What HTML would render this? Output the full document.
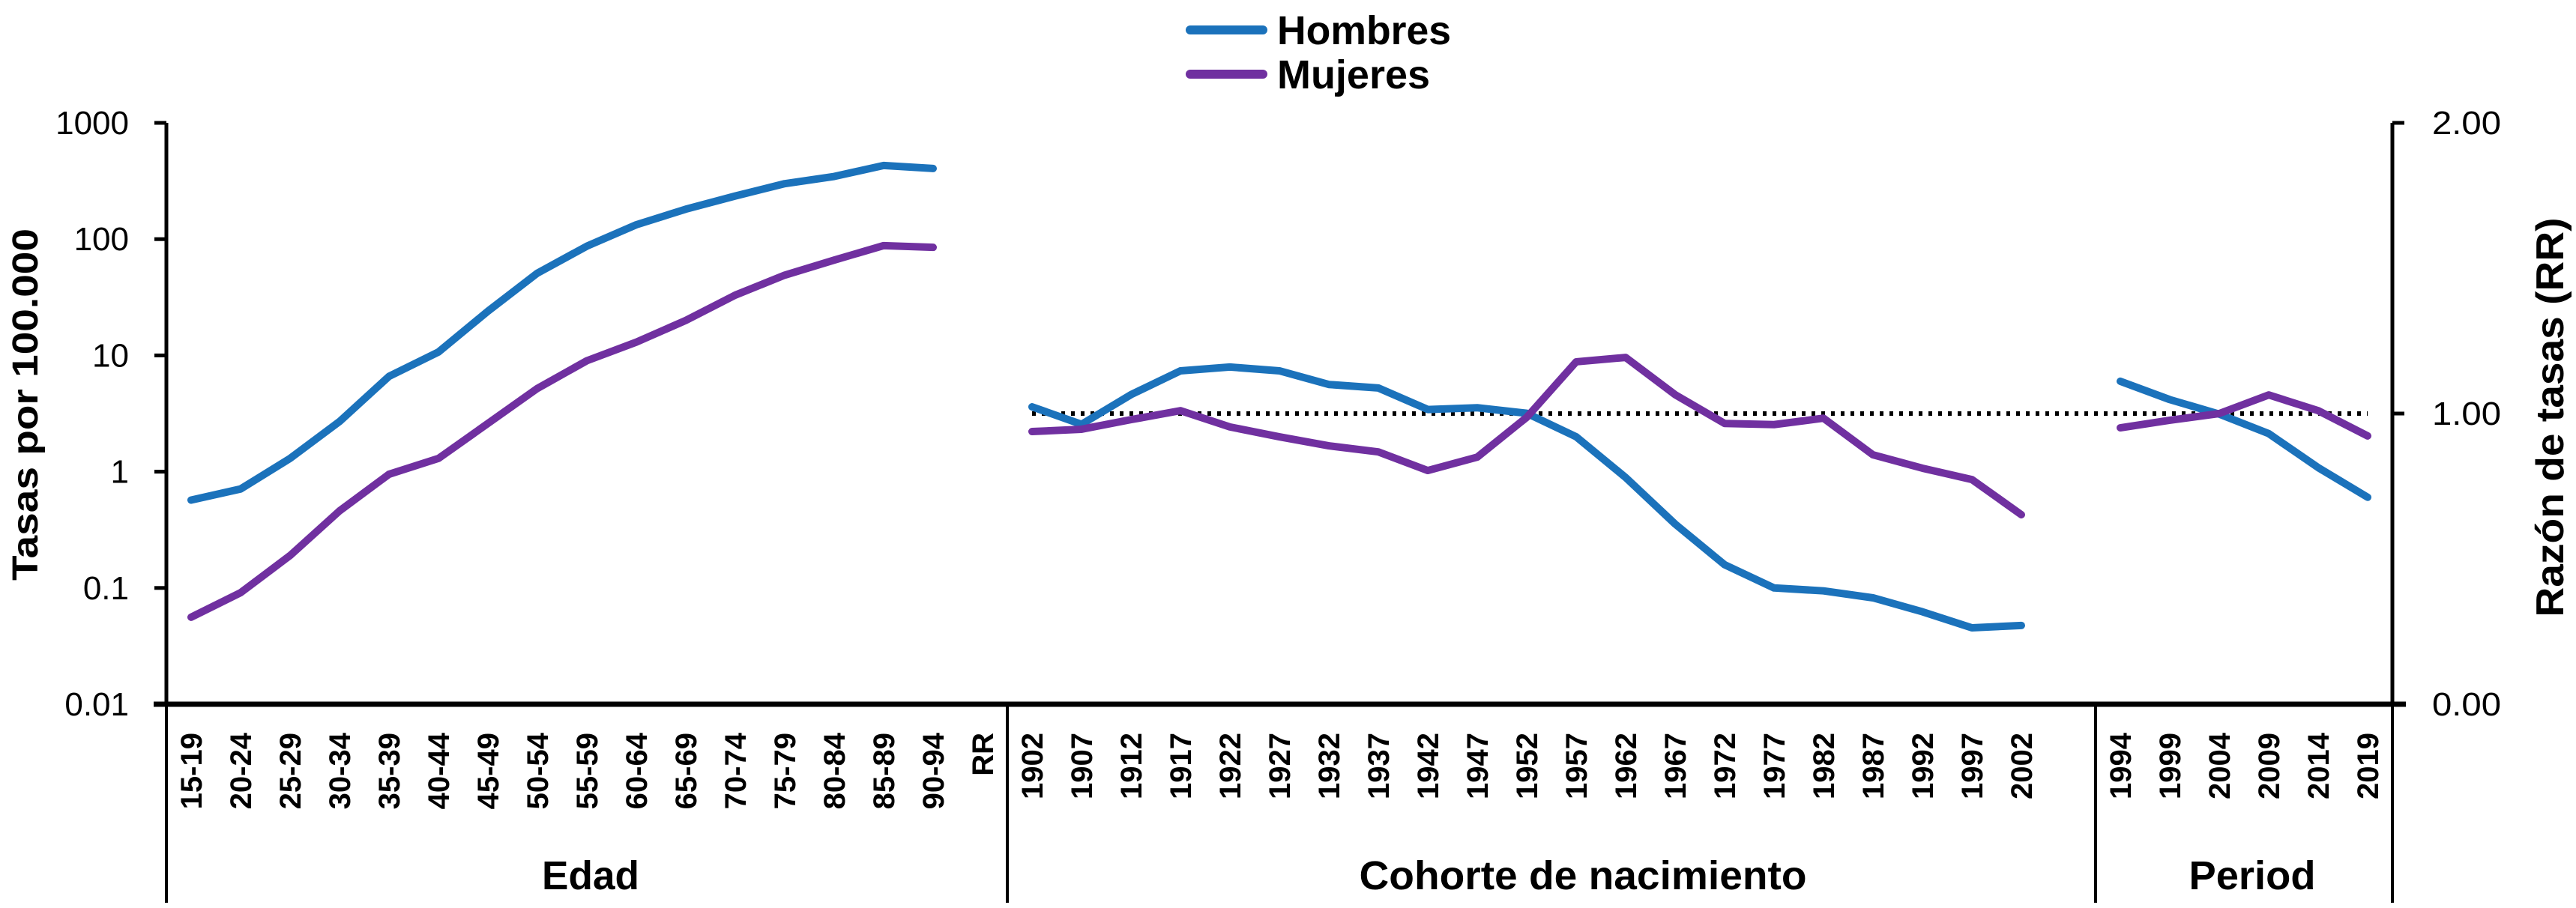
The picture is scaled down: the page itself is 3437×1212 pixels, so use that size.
<!DOCTYPE html>
<html><head><meta charset="utf-8"><style>html,body{margin:0;padding:0;background:#fff}svg{display:block}</style></head>
<body>
<svg id="chart" width="3437" height="1212" viewBox="0 0 3437 1212" xmlns="http://www.w3.org/2000/svg" font-family="Liberation Sans, Arial, sans-serif"></svg>
<script>
const ageCats = ["15-19","20-24","25-29","30-34","35-39","40-44","45-49","50-54","55-59","60-64","65-69","70-74","75-79","80-84","85-89","90-94","RR"];
const ageMen = [0.57,0.71,1.3,2.7,6.6,10.7,24,51,87,133,181,235,300,346,430,405];
const ageWomen = [0.056,0.091,0.19,0.46,0.95,1.3,2.6,5.2,9,13,20,33,49,66,88,85];
const cohortCats = ["1902","1907","1912","1917","1922","1927","1932","1937","1942","1947","1952","1957","1962","1967","1972","1977","1982","1987","1992","1997","2002"];
const cohortMen = [1.023,0.963,1.065,1.147,1.16,1.147,1.10,1.088,1.014,1.02,1.001,0.92,0.78,0.62,0.48,0.40,0.39,0.366,0.318,0.263,0.271];
const cohortWomen = [0.938,0.946,0.979,1.01,0.954,0.92,0.889,0.868,0.804,0.85,0.987,1.178,1.193,1.065,0.966,0.962,0.984,0.858,0.812,0.773,0.652];
const periodCats = ["1994","1999","2004","2009","2014","2019"];
const periodMen = [1.111,1.048,0.998,0.931,0.814,0.712];
const periodWomen = [0.951,0.977,1.0,1.064,1.01,0.923];
const leftTicks = [1000,100,10,1,0.1,0.01];
const leftTickLabels = ["1000","100","10","1","0.1","0.01"];
const rightTicks = [2,1,0];
const rightTickLabels = ["2.00","1.00","0.00"];

const NS="http://www.w3.org/2000/svg";
const svg=document.getElementById('chart');
const X0=222, SLOT=66, YT=164, YB=940;
const ageStart=0, cohortStart=17, periodStart=39, total=45;
function xSlot(i){return X0+SLOT*(i+0.5);}
function yLog(v){return YB-(Math.log10(v)+2)*(YB-YT)/5;}
function yRR(v){return YB-v*(YB-YT)/2;}
function el(tag,attrs,text){const e=document.createElementNS(NS,tag);for(const k in attrs)e.setAttribute(k,attrs[k]);if(text!==undefined)e.textContent=text;svg.appendChild(e);return e;}
const BLUE="#1b72bb", PURPLE="#7030a0";

let a=el('line',{x1:X0,y1:YT,x2:X0,y2:YB,stroke:'#000','stroke-width':5});


const XR=X0+SLOT*total;
a=el('line',{x1:XR,y1:YT,x2:XR,y2:YB,stroke:'#000','stroke-width':5});


a=el('line',{x1:205,y1:YB,x2:XR+18,y2:YB,stroke:'#000','stroke-width':7});


[0,17,39,45].forEach(s=>{const l=el('line',{x1:X0+SLOT*s,y1:YB,x2:X0+SLOT*s,y2:1205,stroke:'#000','stroke-width':4});

});

leftTicks.forEach((v,i)=>{const y=yLog(v);
const t=el('line',{x1:X0-16,y1:y,x2:X0,y2:y,stroke:'#000','stroke-width':5});


const tx=el('text',{x:172,y:y+15,'text-anchor':'end','font-size':44},leftTickLabels[i]);

});
rightTicks.forEach((v,i)=>{const y=yRR(v);
const t=el('line',{x1:XR,y1:y,x2:XR+16,y2:y,stroke:'#000','stroke-width':5});


const tx=el('text',{x:3245,y:y+15,'font-size':44,textLength:92,lengthAdjust:'spacingAndGlyphs'},rightTickLabels[i]);

});

let t=el('text',{x:0,y:0,'font-size':48,'font-weight':'bold','text-anchor':'middle',transform:'translate(50,540) rotate(-90)',textLength:470,lengthAdjust:'spacingAndGlyphs'},'Tasas por 100.000');


t=el('text',{x:0,y:0,'font-size':52,'font-weight':'bold','text-anchor':'middle',transform:'translate(3420,557) rotate(-90)',textLength:533,lengthAdjust:'spacingAndGlyphs'},'Razón de tasas (RR)');



function catLabels(cats,start){cats.forEach((c,i)=>{const x=xSlot(start+i);
const e=el('text',{x:0,y:0,'font-size':40,'font-weight':'bold','text-anchor':'end',transform:`translate(${x+14},978) rotate(-90)`},c);

});}
catLabels(ageCats,ageStart);catLabels(cohortCats,cohortStart);catLabels(periodCats,periodStart);
[["Edad",788,'edad-group-label',130],["Cohorte de nacimiento",2112,'cohort-group-label',597],["Period",3005,'period-group-label',169]].forEach(g=>{
const e=el('text',{x:g[1],y:1187,'font-size':54,'font-weight':'bold','text-anchor':'middle',textLength:g[3],lengthAdjust:'spacingAndGlyphs'},g[0]);

});

t=el('line',{x1:xSlot(cohortStart),y1:yRR(1),x2:xSlot(periodStart+5),y2:yRR(1),stroke:'#000','stroke-width':6,'stroke-dasharray':'5 8'});



function series(vals,start,yf,color,name){const pts=vals.map((v,i)=>xSlot(start+i)+','+yf(v)).join(' ');
const p=el('polyline',{points:pts,fill:'none',stroke:color,'stroke-width':10,'stroke-linejoin':'round','stroke-linecap':'round'});

}
series(ageMen,ageStart,yLog,BLUE,'age-men-line');
series(ageWomen,ageStart,yLog,PURPLE,'age-women-line');
series(cohortMen,cohortStart,yRR,BLUE,'cohort-men-line');
series(cohortWomen,cohortStart,yRR,PURPLE,'cohort-women-line');
series(periodMen,periodStart,yRR,BLUE,'period-men-line');
series(periodWomen,periodStart,yRR,PURPLE,'period-women-line');

[["Hombres",BLUE,40,'legend-hombres'],["Mujeres",PURPLE,99,'legend-mujeres']].forEach(l=>{
const s=el('line',{x1:1588,y1:l[2],x2:1685,y2:l[2],stroke:l[1],'stroke-width':12,'stroke-linecap':'round'});


const tx=el('text',{x:1704,y:l[2]+19,'font-size':54,'font-weight':'bold',textLength:l[0]==="Hombres"?232:204,lengthAdjust:'spacingAndGlyphs'},l[0]);

});
</script>
</body></html>
